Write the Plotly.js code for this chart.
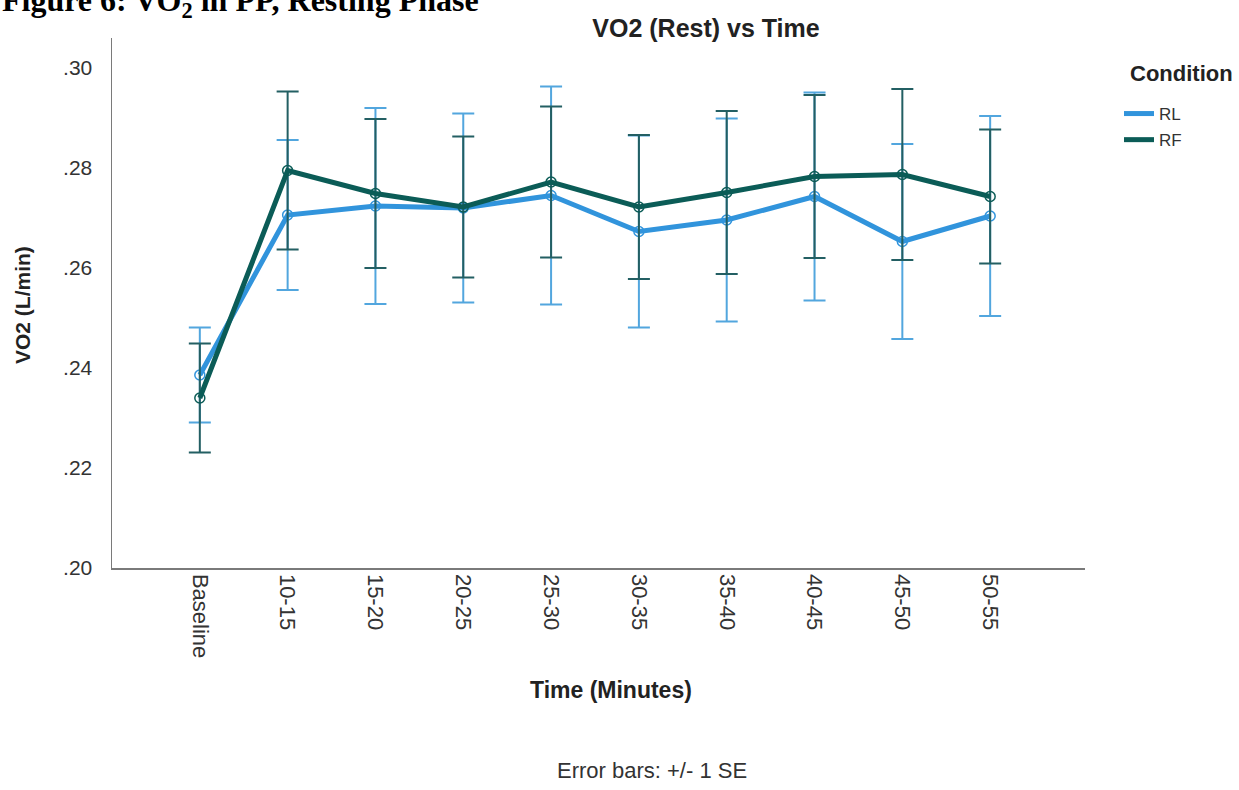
<!DOCTYPE html>
<html>
<head>
<meta charset="utf-8">
<script src="https://cdn.plot.ly/plotly-3.0.1.min.js"></script>
<style>
  html, body { margin: 0; padding: 0; background: #ffffff; }
  #chart { width: 1239px; height: 790px; }
</style>
</head>
<body>
<div id="chart"></div>
<script>
// Time windows on the x axis
const timeLabels = ['Baseline', '10-15', '15-20', '20-25', '25-30', '30-35', '35-40', '40-45', '45-50', '50-55'];

// Mean resting VO2 (L/min) per condition, with standard errors
const rlMean = [0.2386, 0.2706, 0.2724, 0.2720, 0.2745, 0.2673, 0.2696, 0.2743, 0.2653, 0.2704];
const rlSE   = [0.0095, 0.0150, 0.0196, 0.0189, 0.0218, 0.0192, 0.0203, 0.0208, 0.0195, 0.0200];
const rfMean = [0.2340, 0.2795, 0.2749, 0.2722, 0.2772, 0.2722, 0.2751, 0.2783, 0.2787, 0.2743];
const rfSE   = [0.0109, 0.0158, 0.0149, 0.0141, 0.0151, 0.0144, 0.0163, 0.0163, 0.0171, 0.0134];

// Y axis ticks
const yTickVals = [0.20, 0.22, 0.24, 0.26, 0.28, 0.30];
const yTickText = ['.20', '.22', '.24', '.26', '.28', '.30'];

const RL_COLOR = '#3194dc';
const RL_ERR = '#52a6de';
const RF_COLOR = '#0b5c57';
const RF_ERR = '#235f63';
const SANS = 'Liberation Sans, Arial, sans-serif';

// Pixel helpers for placing annotations relative to the plot area (112..1085 x 38..568)
const px = x => (x - 112) / 973;
const py = y => (568 - y) / 530;

function seriesTrace(name, means, ses, lineColor, errColor) {
  return {
    type: 'scatter',
    mode: 'lines+markers',
    name: name,
    x: timeLabels,
    y: means,
    showlegend: false,
    line: { color: lineColor, width: 5 },
    marker: { symbol: 'circle-open', size: 10, color: lineColor, line: { width: 1.5 } },
    error_y: { type: 'data', array: ses, visible: true, color: errColor, thickness: 2, width: 11 }
  };
}

// Legend entries show the line only
function legendTrace(name, lineColor) {
  return {
    type: 'scatter', mode: 'lines', name: name, legendgroup: name,
    x: [null], y: [null],
    line: { color: lineColor, width: 5 },
    hoverinfo: 'skip'
  };
}

const data = [
  seriesTrace('RL', rlMean, rlSE, RL_COLOR, RL_ERR),
  seriesTrace('RF', rfMean, rfSE, RF_COLOR, RF_ERR),
  legendTrace('RL', RL_COLOR),
  legendTrace('RF', RF_COLOR)
];

const layout = {
  width: 1239,
  height: 790,
  margin: { l: 112, r: 154, t: 38, b: 222 },
  paper_bgcolor: '#ffffff',
  plot_bgcolor: '#ffffff',
  font: { family: SANS, color: '#333333' },
  title: {
    text: 'VO2 (Rest) vs Time',
    font: { family: SANS, size: 25, color: '#222222', weight: 'bold' },
    xref: 'container', x: 706 / 1239, xanchor: 'center',
    yref: 'container', y: 1 - 28 / 790, yanchor: 'middle'
  },
  xaxis: {
    type: 'category',
    categoryorder: 'array',
    categoryarray: timeLabels,
    range: [-1, 10.08],
    showline: true, linecolor: '#7a7a7a', linewidth: 1.5,
    showgrid: false, zeroline: false, ticks: '',
    tickangle: 90,
    tickfont: { family: SANS, size: 22, color: '#333333' },
    automargin: false,
    fixedrange: true
  },
  yaxis: {
    range: [0.2, 0.306],
    tickvals: yTickVals,
    ticktext: yTickText,
    showline: true, linecolor: '#7a7a7a', linewidth: 1.5,
    showgrid: false, zeroline: false, ticks: '',
    ticklabelstandoff: 14,
    tickfont: { family: SANS, size: 21, color: '#333333' },
    automargin: false,
    fixedrange: true
  },
  legend: {
    x: px(1119), xanchor: 'left',
    y: py(96), yanchor: 'top',
    traceorder: 'grouped',
    tracegroupgap: 1,
    font: { family: SANS, size: 17, color: '#333333' },
    bgcolor: 'rgba(0,0,0,0)'
  },
  annotations: [
    {
      text: '<b>Figure 6: VO<sub>2</sub> in PP, Resting Phase</b>',
      xref: 'paper', yref: 'paper',
      x: px(0), xanchor: 'left',
      y: py(3), yanchor: 'middle',
      showarrow: false,
      font: { family: 'Liberation Serif, Times New Roman, serif', size: 32, color: '#000000' }
    },
    {
      text: '<b>Condition</b>',
      xref: 'paper', yref: 'paper',
      x: px(1128), xanchor: 'left',
      y: py(73), yanchor: 'middle',
      showarrow: false,
      font: { family: SANS, size: 22, color: '#222222' }
    },
    {
      text: '<b>Time (Minutes)</b>',
      xref: 'paper', yref: 'paper',
      x: px(611), xanchor: 'center',
      y: py(690), yanchor: 'middle',
      showarrow: false,
      font: { family: SANS, size: 23, color: '#222222' }
    },
    {
      text: '<b>VO2 (L/min)</b>',
      xref: 'paper', yref: 'paper',
      x: px(22), xanchor: 'center',
      y: py(305), yanchor: 'middle',
      textangle: -90,
      showarrow: false,
      font: { family: SANS, size: 21, color: '#222222' }
    },
    {
      text: 'Error bars: +/- 1 SE',
      xref: 'paper', yref: 'paper',
      x: px(652), xanchor: 'center',
      y: py(770), yanchor: 'middle',
      showarrow: false,
      font: { family: SANS, size: 22, color: '#333333' }
    }
  ]
};

Plotly.newPlot('chart', data, layout, { displayModeBar: false, staticPlot: true });
</script>
</body>
</html>
